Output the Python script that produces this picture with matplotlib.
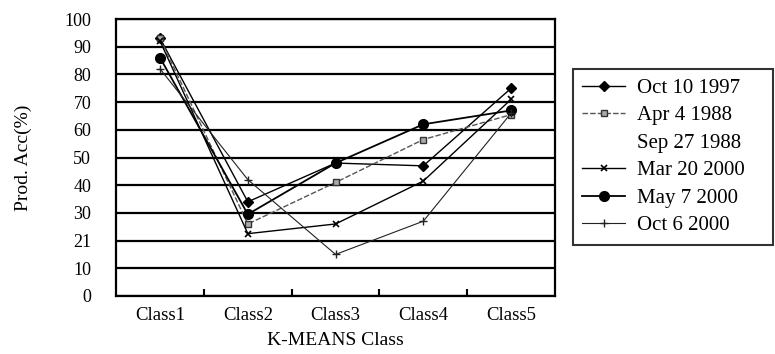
import numpy as np
import matplotlib
matplotlib.use("Agg")
import matplotlib.pyplot as plt
from matplotlib.lines import Line2D

plt.rcParams['font.family'] = ['Liberation Serif', 'DejaVu Serif']

# data
classes = ["Class1", "Class2", "Class3", "Class4", "Class5"]
oct_10_1997 = [93, 34, 48, 47, 75]
apr_4_1988 = [93, 26, 41, 56.5, 65.5]
mar_20_2000 = [92, 22.5, 26, 41.5, 71]
may_7_2000 = [86, 29.5, 48, 62, 67]
oct_6_2000 = [82, 42, 15, 27, 66]
ytick_vals = [0, 10, 20, 30, 40, 50, 60, 70, 80, 90, 100]
ytick_labels = ["0", "10", "21", "30", "40", "50", "60", "70", "80", "90", "100"]

fig = plt.figure(figsize=(7.75, 3.54), dpi=100)
ax = fig.add_axes([0.150, 0.164, 0.566, 0.782])

x = np.arange(len(classes))

# horizontal grid lines
for v in ytick_vals:
    ax.axhline(v, color="black", lw=1.6, zorder=1)

ax.plot(x, oct_10_1997, color="black", lw=1.0, marker="D", ms=5, zorder=3)
ax.plot(x, apr_4_1988, color="#555555", lw=1.0, ls=(0, (4, 1.5)), marker="s",
        ms=4.5, mfc="#aaaaaa", mec="#333333", zorder=3)
ax.plot(x, mar_20_2000, color="black", lw=1.0, marker="x", ms=5, mew=1.2, zorder=3)
ax.plot(x, may_7_2000, color="black", lw=1.3, marker="o", ms=7, zorder=3)
ax.plot(x, oct_6_2000, color="#222222", lw=0.8, marker="+", ms=6, mew=1.0, zorder=3)

ax.set_xlim(-0.5, len(classes) - 0.5)
ax.set_ylim(0, 100)
ax.set_yticks(ytick_vals)
ax.set_yticklabels(ytick_labels, fontsize=13)
ax.tick_params(axis="y", length=0, pad=18)

# category ticks sit between classes
ax.set_xticks(np.arange(0.5, len(classes) - 0.5, 1.0))
ax.set_xticklabels([])
ax.set_xticks(x, minor=True)
ax.set_xticklabels(classes, minor=True, fontsize=13.5)
ax.tick_params(axis="x", which="major", direction="in", length=5, width=1.5)
ax.tick_params(axis="x", which="minor", length=0, pad=8)

for s in ax.spines.values():
    s.set_linewidth(1.6)
    s.set_color("black")

ax.set_xlabel("K-MEANS Class", fontsize=14, labelpad=6)
ax.set_ylabel("Prod. Acc(%)", fontsize=14, labelpad=23)

handles = [
    Line2D([], [], color="black", lw=1.0, marker="D", ms=5),
    Line2D([], [], color="#555555", lw=1.0, ls=(0, (4, 1.5)), marker="s", ms=4.5,
           mfc="#aaaaaa", mec="#333333"),
    Line2D([], [], color="none"),
    Line2D([], [], color="black", lw=1.0, marker="x", ms=5, mew=1.2),
    Line2D([], [], color="black", lw=1.3, marker="o", ms=7),
    Line2D([], [], color="#222222", lw=0.8, marker="+", ms=6, mew=1.0),
]
labels = ["Oct 10 1997", "Apr 4 1988", "Sep 27 1988", "Mar 20 2000",
          "May 7 2000", "Oct 6 2000"]
leg = fig.legend(handles, labels, loc="upper left",
                 bbox_to_anchor=(0.739, 0.305, 0.258, 0.5),
                 bbox_transform=fig.transFigure, mode="expand", fontsize=15,
                 frameon=True, fancybox=False, edgecolor="black",
                 handlelength=2.07, handletextpad=0.58, labelspacing=0.38,
                 borderpad=0.45, borderaxespad=0)
leg.get_frame().set_linewidth(1.5)

fig.savefig("out.png", dpi=100)
